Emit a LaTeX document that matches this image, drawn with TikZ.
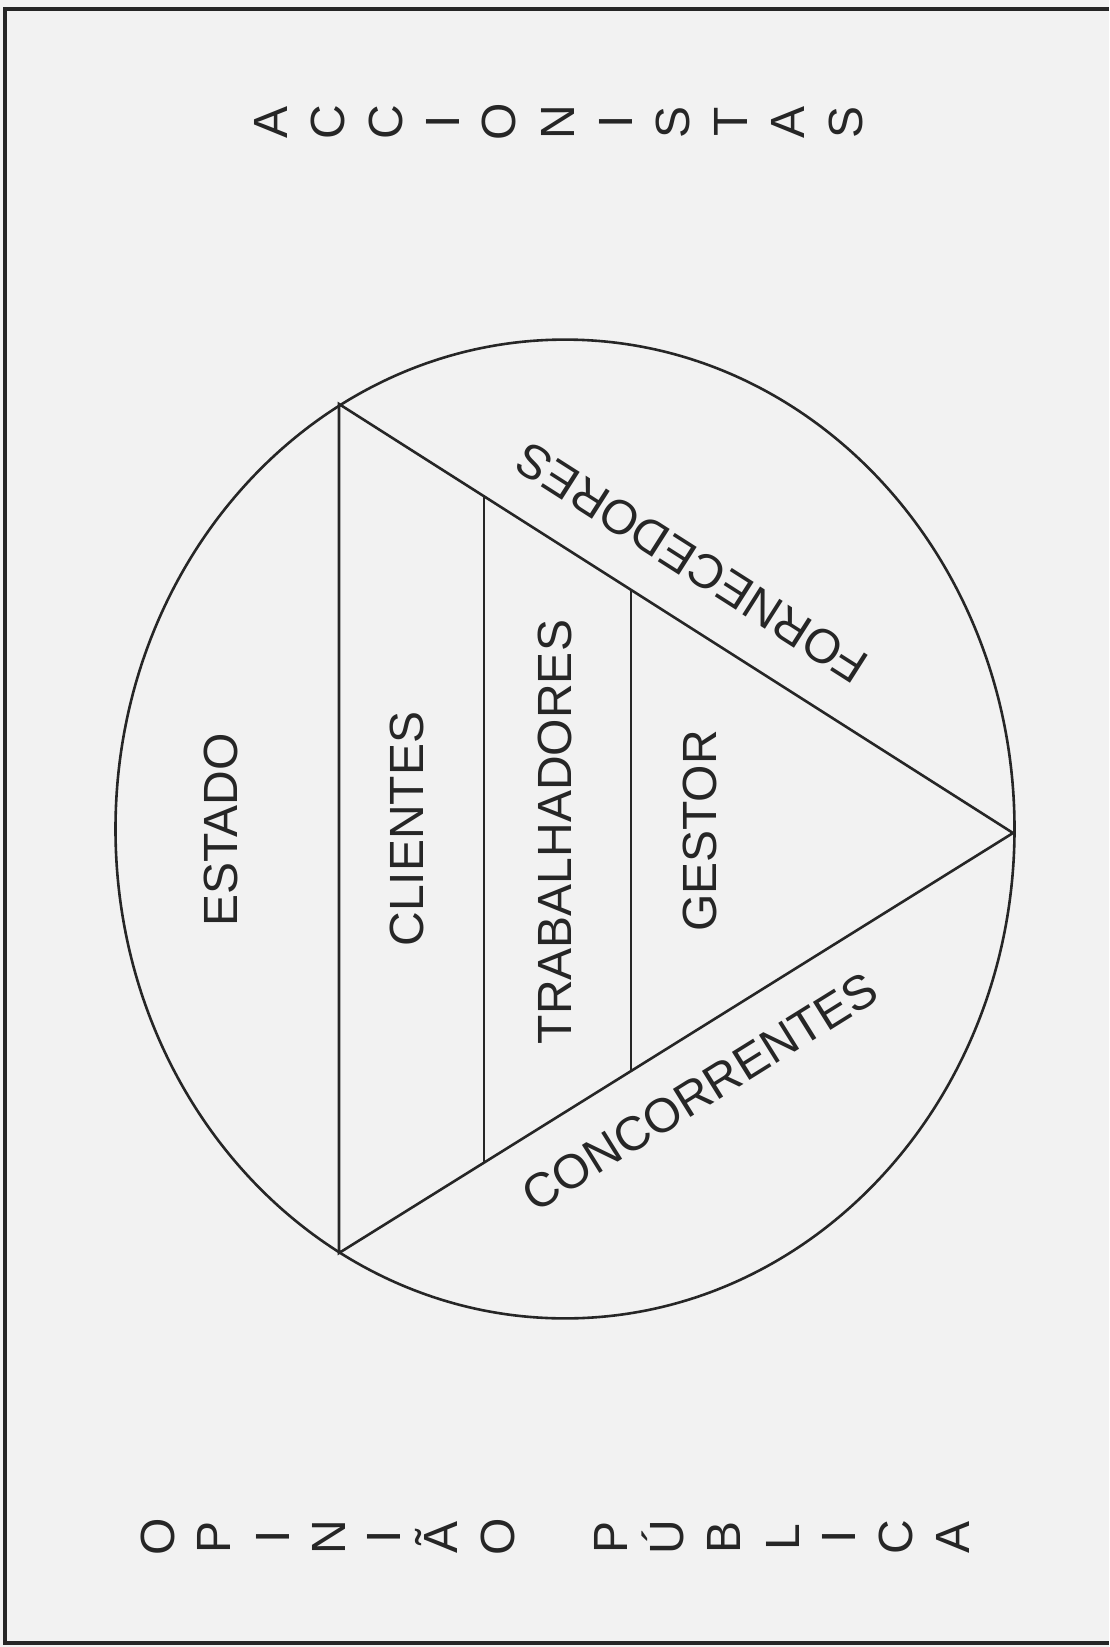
\documentclass[tikz,border=0pt]{standalone}
\usepackage{fontspec}
\setmainfont{Liberation Sans}
\usetikzlibrary{shapes.geometric,calc}
\begin{document}
\begin{tikzpicture}[x=0.5pt,y=-0.5pt,
  ink/.style={draw=black!85, line width=1.3pt},
  lbl/.style={font=\fontsize{24}{28}\selectfont, text=black!85, inner sep=0pt},
  ltr/.style={font=\fontsize{24}{28}\selectfont, text=black!85, inner sep=0pt,
              rotate=90, text height=17.2pt, text depth=0pt},
]
\fill[black!5] (0,0) rectangle (1109,1647);
\useasboundingbox (0,0) rectangle (1109,1647);
% frame
\draw[line width=2pt, black!85] (1109,9) -- (5,9) -- (5,1643) -- (1109,1643);
% outer ellipse
\node[ellipse, ink, inner sep=0pt, minimum width=449.5pt, minimum height=489.4pt] (oval) at (565,829) {};
% triangle
\coordinate (tl) at (339,404);
\coordinate (bl) at (339,1253);
\coordinate (rt) at (1013,833);
\draw[ink, line join=miter] (tl) -- (rt) -- (bl) -- cycle;
% dividers
\coordinate (d1t) at ($(tl)!0.2151!(rt)$);
\coordinate (d1b) at ($(bl)!0.2151!(rt)$);
\coordinate (d2t) at ($(tl)!0.4332!(rt)$);
\coordinate (d2b) at ($(bl)!0.4332!(rt)$);
\draw[ink] (d1t) -- (d1b);
\draw[ink] (d2t) -- (d2b);
% labels
\node[lbl, rotate=90] (estado) at (221,830) {ESTADO};
\node[lbl, rotate=90] (clientes) at (407,829) {CLIENTES};
\node[lbl, rotate=90] (trab) at (555,832) {TRABALHADORES};
\node[lbl, rotate=90] (gestor) at (700,831) {GESTOR};
\node[lbl, rotate=147.5] (forn) at (692,563) {FORNECEDORES};
\node[lbl, rotate=31.9] (conc) at (700,1092) {CONCORRENTES};
% stacked letters
\foreach \c/\x [count=\i] in {A/270,C/327,C/385,I/442,O/498,N/557,I/615,S/672,T/730,A/787,S/845}
  \node[ltr] (acc\i) at (\x,122) {\c};
\foreach \c/\x [count=\i] in {O/157,P/213,I/272,N/328,I/383,Ã/440,O/497,P/610,Ú/666,B/723,L/782,I/838,C/895,A/952}
  \node[ltr] (op\i) at (\x,1537) {\c};
\end{tikzpicture}
\end{document}
